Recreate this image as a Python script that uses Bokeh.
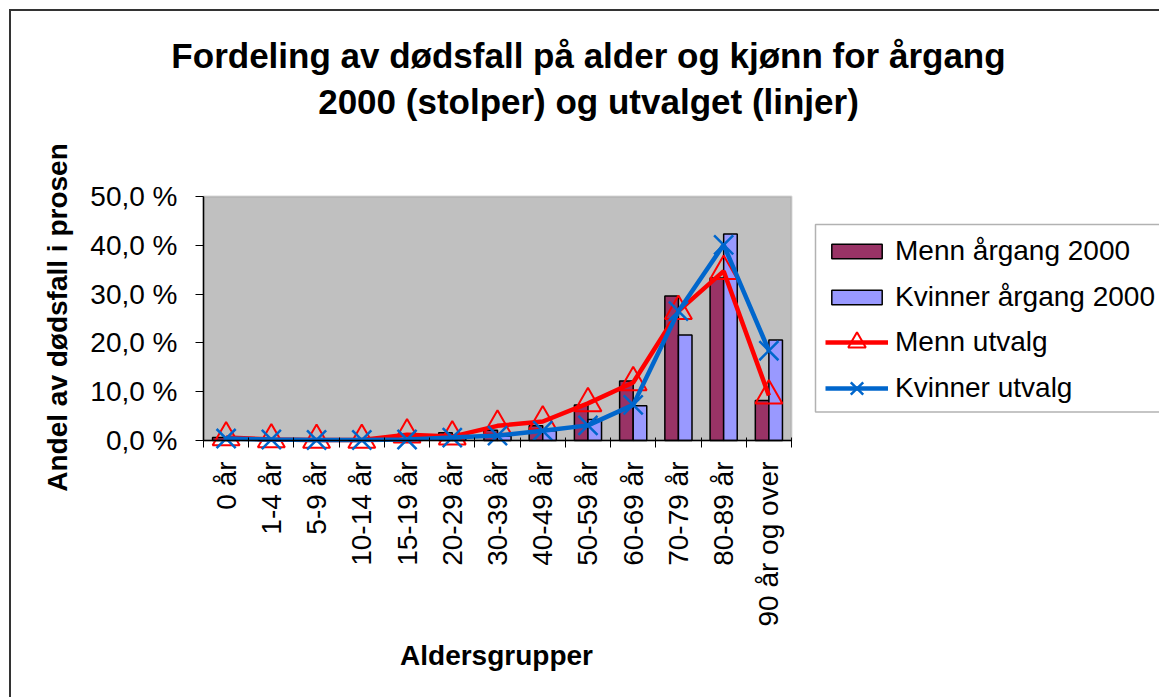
import math
from bokeh.plotting import figure
from bokeh.models import (Range1d, FixedTicker, CustomJSTickFormatter, Legend, LegendItem,
                          BoxAnnotation, ColumnDataSource, LinearAxis, Label, Grid)
from bokeh.transform import dodge
from bokeh.embed import file_html
from bokeh.resources import INLINE

categories = ["0 år", "1-4 år", "5-9 år", "10-14 år", "15-19 år", "20-29 år", "30-39 år",
              "40-49 år", "50-59 år", "60-69 år", "70-79 år", "80-89 år", "90 år og over"]
menn_2000 = [0.6, 0.05, 0.03, 0.05, 0.3, 1.6, 2.1, 3.0, 7.3, 12.2, 29.6, 33.3, 8.2]
kvinner_2000 = [0.5, 0.03, 0.02, 0.03, 0.1, 0.4, 0.9, 2.0, 4.3, 7.1, 21.6, 42.3, 20.6]
menn_utvalg = [0.6, 0.2, 0.1, 0.1, 1.2, 0.8, 3.0, 3.9, 7.6, 11.9, 26.5, 34.7, 9.2]
kvinner_utvalg = [0.4, 0.2, 0.1, 0.1, 0.2, 0.6, 1.0, 2.0, 3.1, 7.3, 26.5, 40.1, 18.4]
y_ticks = [0, 10, 20, 30, 40, 50]
Y_MAX = 50

title_1 = "Fordeling av dødsfall på alder og kjønn for årgang"
title_2 = "2000 (stolper) og utvalget (linjer)"
x_title = "Aldersgrupper"
y_title = "Andel av dødsfall i prosen"

FONT = "Liberation Sans"
N = len(categories)

# ---- layout in pixels (frame covers the whole canvas) ----
W, H = 1150, 688             # canvas (page offset 11, 11 by margin + border)
OX, OY = 11, 11              # page offset of the canvas
PLOT_L, PLOT_R = 203, 791    # page x of grey area
PLOT_T, PLOT_B = 196, 440    # page y of grey area
px_x = (PLOT_R - PLOT_L) / N
px_y = (PLOT_B - PLOT_T) / Y_MAX
x_start = -(PLOT_L - OX) / px_x
x_end = (OX + W - PLOT_L) / px_x
y_start = -(OY + H - PLOT_B) / px_y
y_end = (PLOT_B - OY) / px_y


def sx(page_x):
    return page_x - OX


def sy(page_y):
    return OY + H - page_y


src = ColumnDataSource(dict(
    xc=[i + 0.5 for i in range(N)],
    menn_2000=menn_2000, kvinner_2000=kvinner_2000,
    menn_utvalg=menn_utvalg, kvinner_utvalg=kvinner_utvalg,
))

p = figure(width=W, height=H, x_range=Range1d(x_start, x_end), y_range=Range1d(y_start, y_end),
           output_backend="svg", toolbar_location=None,
           x_axis_location=None, y_axis_location=None,
           min_border=0, min_border_left=0, min_border_right=0, min_border_top=0, min_border_bottom=0,
           background_fill_color="white", border_fill_color="white",
           outline_line_color=None)
p.title.visible = False
p.styles = {"margin-left": "9px", "margin-top": "9px",
            "border-top": "2px solid #333333", "border-left": "2px solid #333333"}
for g in p.select(type=Grid):
    g.visible = False
p.center = [r for r in p.center if not isinstance(r, Grid)]

# grey plot area
area = BoxAnnotation(left=0, right=N, bottom=0, top=Y_MAX, level="underlay",
                     fill_color="#C0C0C0", fill_alpha=1, line_color="#808080", line_width=2)
p.add_layout(area)

bw = 0.3
b1 = p.vbar(x=dodge("xc", -bw / 2), top="menn_2000", width=bw, source=src,
            fill_color="#993366", line_color="black", line_width=1.5)
b2 = p.vbar(x=dodge("xc", bw / 2), top="kvinner_2000", width=bw, source=src,
            fill_color="#9999FF", line_color="black", line_width=1.5)

l1 = p.line("xc", "menn_utvalg", source=src, line_color="#FF0000", line_width=4.5)
m1 = p.scatter("xc", "menn_utvalg", source=src, marker="triangle", size=27,
               line_color="#FF0000", line_width=2, fill_alpha=0)
l2 = p.line("xc", "kvinner_utvalg", source=src, line_color="#0066CC", line_width=4.5)
m2 = p.scatter("xc", "kvinner_utvalg", source=src, marker="x", size=27,
               line_color="#0066CC", line_width=2.5)

# x axis (fixed at y = 0)
xa = LinearAxis(fixed_location=0, bounds=(0, N))
xa.ticker = FixedTicker(ticks=[i + 0.5 for i in range(N)], minor_ticks=list(range(N + 1)))
xa.formatter = CustomJSTickFormatter(args=dict(labels=categories),
                                     code="return labels[Math.floor(tick)] || '';")
xa.major_tick_in = 0
xa.major_tick_out = 0
xa.minor_tick_in = 3
xa.minor_tick_out = 7
xa.minor_tick_line_color = "black"
xa.axis_line_color = "black"
xa.axis_line_width = 1.5
xa.major_label_orientation = math.pi / 2
xa.major_label_standoff = 14
xa.major_label_text_font = FONT
xa.major_label_text_font_size = "28px"
xa.major_label_text_color = "black"
p.add_layout(xa, "below")

# y axis (fixed at x = 0)
ya = LinearAxis(fixed_location=0, bounds=(0, Y_MAX))
ya.ticker = FixedTicker(ticks=y_ticks, minor_ticks=[])
ya.formatter = CustomJSTickFormatter(code="return tick.toFixed(1).replace('.', ',') + ' %';")
ya.major_tick_in = 0
ya.major_tick_out = 8
ya.major_tick_line_color = "black"
ya.axis_line_color = "black"
ya.axis_line_width = 1.5
ya.major_label_standoff = 18
ya.major_label_text_font = FONT
ya.major_label_text_font_size = "28px"
ya.major_label_text_color = "black"
p.add_layout(ya, "left")

# titles
common = dict(x_units="screen", y_units="screen", text_font=FONT, text_color="black",
              text_font_style="bold", text_baseline="alphabetic", text_align="center")
p.add_layout(Label(x=sx(588), y=sy(55), text=title_1, text_font_size="35px", **common))
p.add_layout(Label(x=sx(588), y=sy(101), text=title_2, text_font_size="35px", **common))
p.add_layout(Label(x=sx(496), y=sy(655), text=x_title, text_font_size="28px", **common))
p.add_layout(Label(x=sx(57), y=sy(317), text=y_title, text_font_size="28px",
                   angle=math.pi / 2, **common))


def style_legend(lg):
    lg.label_text_font = FONT
    lg.label_text_font_size = "28px"
    lg.label_text_color = "black"
    lg.label_height = 32
    lg.label_standoff = 7
    lg.glyph_width = 63
    lg.padding = 5
    lg.margin = 0
    lg.border_line_alpha = 0
    lg.background_fill_alpha = 0


leg1 = Legend(items=[LegendItem(label="Menn årgang 2000", renderers=[b1]),
                     LegendItem(label="Kvinner årgang 2000", renderers=[b2])],
              location=(sx(820), sy(318)))
style_legend(leg1)
leg1.glyph_height = 18
leg1.spacing = 14

leg2 = Legend(items=[LegendItem(label="Menn utvalg", renderers=[l1, m1]),
                     LegendItem(label="Kvinner utvalg", renderers=[l2, m2])],
              location=(sx(820), sy(415)))
style_legend(leg2)
leg2.glyph_height = 44
leg2.spacing = 2

p.add_layout(leg1, "center")
p.add_layout(leg2, "center")

box = BoxAnnotation(left=sx(815), right=sx(1160), bottom=sy(411.5), top=sy(224),
                    left_units="screen", right_units="screen",
                    top_units="screen", bottom_units="screen",
                    fill_alpha=0, line_color="black", line_width=1.5)
p.add_layout(box)

open("out.html", "w").write(file_html(p, INLINE))
